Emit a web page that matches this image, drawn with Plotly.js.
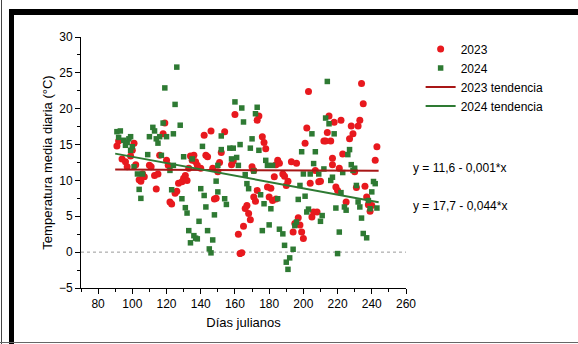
<!DOCTYPE html>
<html>
<head>
<meta charset="utf-8">
<script src="https://cdn.plot.ly/plotly-3.0.1.min.js"></script>
<style>
html,body{margin:0;padding:0;background:#fff;}
#wrap{position:relative;width:578px;height:344px;overflow:hidden;}
#chart{position:absolute;left:0;top:0;width:578px;height:344px;}
.bar{position:absolute;background:#000;pointer-events:none;}
</style>
</head>
<body>
<div id="wrap">
<div id="chart"></div>
<div class="bar" style="left:9px;top:9px;width:569px;height:6px;"></div>
<div class="bar" style="left:9px;top:9px;width:5px;height:335px;"></div>
<div class="bar" style="left:1px;top:0px;width:1px;height:344px;background:#444;"></div>
<div class="bar" style="left:0px;top:342px;width:578px;height:1px;background:#666;"></div>
</div>
<script>
// 2023 daily mean temperature (day of year, °C)
const days2023 = [91,92,94,96,97,99,100,101,102,104,105,106,107,110,111,113,114,115,116,118,119,120,121,122,123,125,126,127,129,130,131,132,133,134,135,136,137,138,140,142,143,144,146,147,148,149,150,151,152,154,158,159,160,162,163,164,165,166,167,168,169,170,171,171,172,173,173,174,176,177,178,179,180,181,182,183,184,184,185,186,188,189,190,191,193,194,195,196,197,198,199,200,201,202,203,204,205,206,207,208,209,210,212,213,214,215,216,217,217,218,219,220,221,222,223,225,227,228,229,230,231,232,233,234,235,236,237,238,239,240,242,243];
const temp2023 = [14.8,15.5,13.0,12.6,11.9,13.4,14.2,15.2,12.2,10.1,9.9,10.9,10.5,12.1,11.9,10.7,8.8,10.9,13.5,16.5,18.0,12.8,12.1,7.0,6.7,8.2,8.5,9.6,9.8,10.3,10.7,10.0,11.7,13.4,12.8,13.5,12.6,12.1,11.7,16.3,13.5,13.3,16.9,11.7,7.4,7.5,11.2,12.5,13.9,16.8,12.2,12.7,19.2,2.5,-0.2,-0.1,3.6,6.1,6.5,5.4,4.5,11.9,11.4,7.7,7.1,8.6,18.4,19.0,16.1,15.3,14.4,9.1,7.7,8.9,7.2,10.5,12.2,7.4,12.8,12.4,10.9,10.6,9.3,9.9,12.6,2.8,4.0,12.4,4.8,3.8,2.8,1.9,15.2,17.3,22.4,9.6,4.9,5.6,11.4,5.6,9.8,9.9,15.5,15.5,16.7,19.0,15.5,13.1,12.2,18.1,9.1,8.6,11.7,18.4,13.7,7.0,15.8,17.6,16.5,11.2,9.0,17.6,18.4,23.5,20.7,9.2,7.7,6.6,5.7,6.5,12.8,14.7];

// 2024 daily mean temperature (day of year, °C)
const days2024 = [91,92,93,95,96,97,98,99,99,100,101,103,104,105,106,109,110,112,113,114,115,116,117,118,119,120,122,123,124,124,125,126,128,129,130,131,132,133,134,135,136,137,138,139,140,141,142,143,144,145,146,147,148,149,150,150,152,152,154,155,157,158,159,160,161,162,163,164,165,166,167,168,169,170,171,172,173,174,175,176,177,178,179,180,181,182,185,186,188,189,190,191,192,194,195,196,197,198,199,200,201,202,203,204,205,206,207,209,210,211,212,213,214,215,216,217,218,219,220,221,222,223,224,225,226,227,228,229,230,231,232,233,234,235,237,238,239,240,241,242,243];
const temp2024 = [16.8,16.0,16.9,15.6,14.9,15.3,15.8,16.1,14.2,14.7,11.9,10.9,8.75,7.5,10.9,13.6,16.1,17.4,16.9,15.8,15.2,16.1,13.5,18.0,22.9,16.1,11.4,8.7,12.1,16.5,20.6,25.8,17.7,7.45,13.3,6.2,5.45,3.0,1.3,13.0,2.3,1.95,1.85,4.3,8.85,14.75,7.9,6.3,3.0,0.45,-0.1,1.7,5.2,9.9,8.4,12.1,16.2,14.3,7.45,6.65,14.5,13.0,14.5,20.95,13.2,12.1,15.0,20.1,18.15,10.8,9.55,8.85,14.5,15.8,11.3,19.3,20.2,14.2,8.0,3.0,6.75,12.8,12.1,3.8,6.05,12.1,7.45,3.2,2.55,0.95,-1.4,-2.4,-0.8,0.4,3.7,4.2,7.35,9.3,14.0,10.9,7.8,5.6,6.0,10.9,16.5,12.35,14.0,10.9,4.3,5.1,11.6,18.7,23.8,17.9,10.0,10.45,16.5,6.15,-0.2,2.8,8.3,11.1,6.3,5.85,13.6,14.3,12.2,11.4,11.7,9.3,7.0,6.3,4.75,2.6,2.0,7.2,6.05,8.4,9.85,9.55,6.15];

// Fitted trend lines (end points)
const trendX = [90, 244];
const trend2023 = [11.51, 11.36];
const trend2024 = [13.74, 6.96];

const seriesNames = ['2023', '2024', '2023 tendencia', '2024 tendencia'];
const eq2023 = 'y = 11,6 - 0,001*x';
const eq2024 = 'y = 17,7 - 0,044*x';
const xTicks = [80,100,120,140,160,180,200,220,240,260];
const yTicks = [-5,0,5,10,15,20,25,30];

const RED = '#e8191e';
const GREEN = '#2e7a33';
const FONT = 'Liberation Sans, Arial, sans-serif';

const traces = [
  {x: days2023, y: temp2023, type: 'scatter', mode: 'markers', name: seriesNames[0],
   marker: {symbol: 'circle', size: 7, color: RED}},
  {x: days2024, y: temp2024, type: 'scatter', mode: 'markers', name: seriesNames[1],
   marker: {symbol: 'square', size: 5.5, color: GREEN}},
  {x: trendX, y: trend2023, type: 'scatter', mode: 'lines', name: seriesNames[2],
   line: {color: '#a81616', width: 2}},
  {x: trendX, y: trend2024, type: 'scatter', mode: 'lines', name: seriesNames[3],
   line: {color: '#2e7a33', width: 2}}
];

const layout = {
  width: 578, height: 344,
  margin: {l: 81, r: 172, t: 37, b: 56, pad: 0},
  paper_bgcolor: '#fff', plot_bgcolor: '#fff',
  font: {family: FONT, size: 12, color: '#000'},
  showlegend: true,
  legend: {x: 1.045, y: 1.01, xanchor: 'left', yanchor: 'top', bgcolor: 'rgba(0,0,0,0)',
           font: {family: FONT, size: 12, color: '#000'}, tracegroupgap: 0, itemwidth: 30},
  xaxis: {range: [70, 260], tickvals: xTicks, ticks: 'outside', ticklen: 5, tickwidth: 1,
          tickcolor: '#000', showline: true, linecolor: '#000', linewidth: 1,
          showgrid: false, zeroline: false,
          minor: {dtick: 10, tick0: 70, ticks: 'outside', ticklen: 3, tickcolor: '#000', showgrid: false},
          tickfont: {family: FONT, size: 12},
          title: {text: 'Días julianos', font: {family: FONT, size: 13}, standoff: 7}},
  yaxis: {range: [-5, 30], tickvals: yTicks, ticks: 'outside', ticklen: 5, tickwidth: 1,
          tickcolor: '#000', showline: true, linecolor: '#000', linewidth: 1,
          showgrid: false, zeroline: false,
          minor: {dtick: 2.5, tick0: 0, ticks: 'outside', ticklen: 3, tickcolor: '#000', showgrid: false},
          tickfont: {family: FONT, size: 12},
          title: {text: 'Temperatura media diaria (°C)', font: {family: FONT, size: 13}, standoff: 3}},
  shapes: [
    {type: 'line', xref: 'paper', yref: 'y', x0: 0, x1: 1, y0: 0, y1: 0,
     line: {color: '#999', width: 1, dash: 'dot'}, layer: 'below'}
  ],
  annotations: [
    {xref: 'paper', yref: 'y', x: 1.016, y: 11.7, text: eq2023, showarrow: false,
     xanchor: 'left', yanchor: 'middle', font: {family: FONT, size: 12}},
    {xref: 'paper', yref: 'y', x: 1.016, y: 6.5, text: eq2024, showarrow: false,
     xanchor: 'left', yanchor: 'middle', font: {family: FONT, size: 12}}
  ]
};

Plotly.newPlot('chart', traces, layout, {staticPlot: true, displayModeBar: false});
</script>
</body>
</html>
